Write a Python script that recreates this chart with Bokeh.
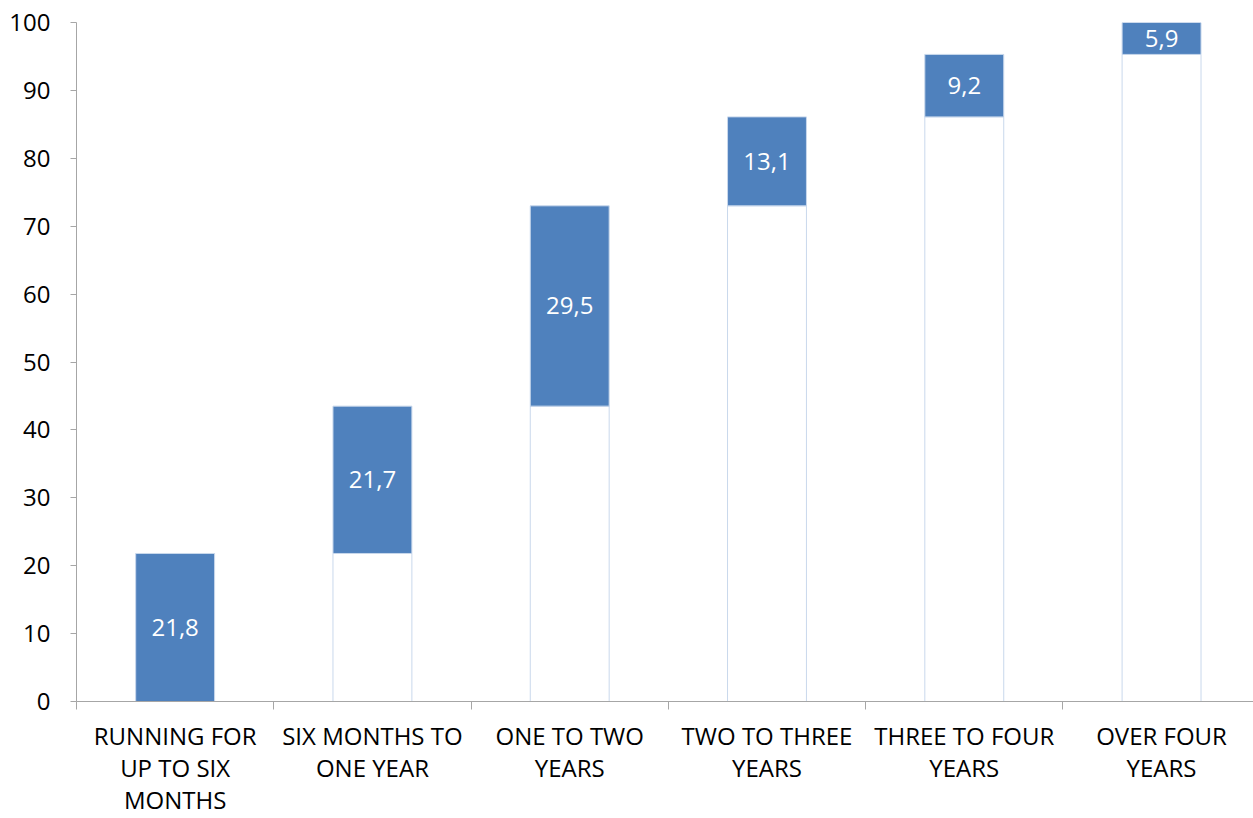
import numpy as np
from bokeh.plotting import figure
from bokeh.models import ColumnDataSource, FixedTicker, Range1d, LinearAxis
from bokeh.core.properties import value
from bokeh.embed import file_html
from bokeh.resources import INLINE

categories = ["RUNNING FOR\nUP TO SIX\nMONTHS", "SIX MONTHS TO\nONE YEAR", "ONE TO TWO\nYEARS",
              "TWO TO THREE\nYEARS", "THREE TO FOUR\nYEARS", "OVER FOUR\nYEARS"]
increments = [21.8, 21.7, 29.5, 13.1, 9.2, 5.9]
y_ticks = [0, 10, 20, 30, 40, 50, 60, 70, 80, 90, 100]

FONT = "Open Sans"
Y_MAX = 100

inc = np.array(increments)
tops = np.cumsum(inc)
bases = tops - inc
xs = np.arange(len(categories)) + 0.5
label_y = (bases + np.minimum(tops, Y_MAX)) / 2
labels = [f"{v:.1f}".replace(".", ",") for v in increments]

src = ColumnDataSource(dict(x=xs, base=bases, top=tops, ly=label_y, lab=labels))

p = figure(width=1253, height=818, output_backend="svg", toolbar_location=None,
           x_range=Range1d(0, 5.966), y_range=Range1d(0, Y_MAX),
           min_border_left=76, min_border_right=0, min_border_top=22, min_border_bottom=114,
           x_axis_location=None, y_axis_location=None)
p.outline_line_color = None
p.background_fill_color = "white"
p.border_fill_color = "white"
p.xgrid.visible = False
p.ygrid.visible = False

# invisible base bars (white with faint outline)
p.vbar(x="x", width=0.4, bottom=0, top="base", source=src,
       fill_color="white", line_color="#c9d8ec", line_width=1)
# visible increment bars
p.vbar(x="x", width=0.4, bottom="base", top="top", source=src,
       fill_color="#4f81bd", line_color="#c9d8ec", line_width=1)

p.text(x="x", y="ly", text="lab", source=src, text_color="white",
       text_font=value(FONT), text_font_size="24px",
       text_align="center", text_baseline="middle")

axis_color = "#a6a6a6"

yaxis = LinearAxis(ticker=FixedTicker(ticks=y_ticks))
yaxis.axis_line_color = axis_color
yaxis.major_tick_line_color = axis_color
yaxis.major_tick_out = 6
yaxis.major_tick_in = 0
yaxis.minor_tick_line_color = None
yaxis.major_label_text_font = FONT
yaxis.major_label_text_font_size = "24px"
yaxis.major_label_text_color = "black"
yaxis.major_label_standoff = 20
p.add_layout(yaxis, "left")

xaxis = LinearAxis(ticker=FixedTicker(ticks=list(xs), minor_ticks=list(range(len(categories) + 1))))
xaxis.major_label_overrides = {float(x): c for x, c in zip(xs, categories)}
xaxis.axis_line_color = axis_color
xaxis.major_tick_line_color = None
xaxis.major_tick_out = 0
xaxis.minor_tick_line_color = axis_color
xaxis.minor_tick_out = 8
xaxis.minor_tick_in = 0
xaxis.major_label_text_font = FONT
xaxis.major_label_text_font_size = "24px"
xaxis.major_label_text_color = "black"
xaxis.major_label_standoff = 9
xaxis.major_label_text_line_height = 0.97
p.add_layout(xaxis, "below")

open("out.html", "w").write(file_html(p, INLINE))
